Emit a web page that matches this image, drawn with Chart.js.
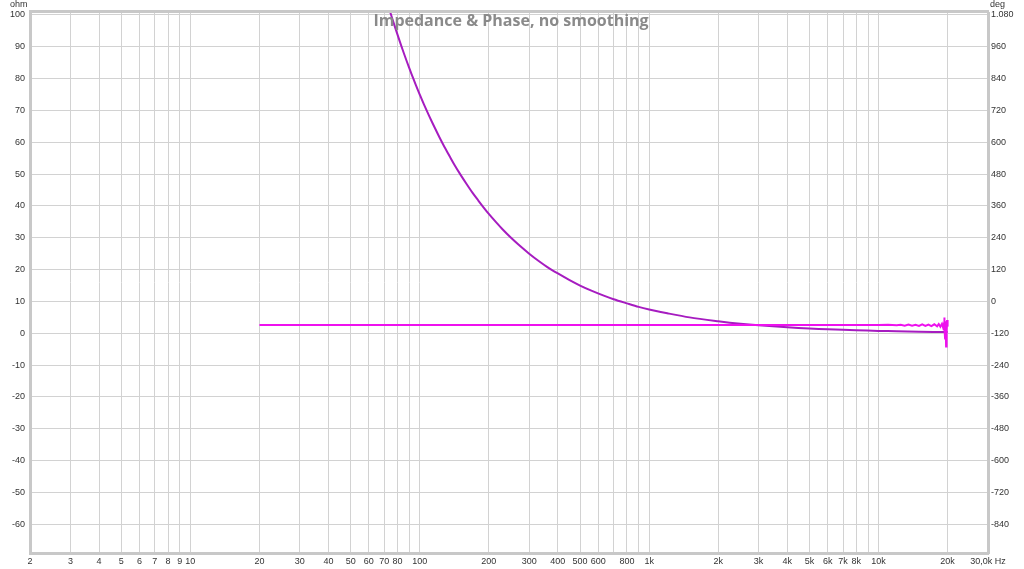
<!DOCTYPE html>
<html>
<head>
<meta charset="utf-8">
<script src="https://cdn.jsdelivr.net/npm/chart.js@4/dist/chart.umd.min.js"></script>
<style>
html,body{margin:0;padding:0;background:#fff;}
#wrap{width:1024px;height:569px;position:relative;}
</style>
</head>
<body>
<div id="wrap"><canvas id="c" width="1024" height="569"></canvas></div>
<script>
// Frequency ticks (Hz) and labels
const xTicks = [2,3,4,5,6,7,8,9,10,20,30,40,50,60,70,80,90,100,200,300,400,500,600,700,800,900,1000,2000,3000,4000,5000,6000,7000,8000,9000,10000,20000,30000];
const xTickLabels = ['2','3','4','5','6','7','8','9','10','20','30','40','50','60','70','80','','100','200','300','400','500','600','','800','','1k','2k','3k','4k','5k','6k','7k','8k','','10k','20k','30,0k Hz'];
const ohmTicks = [-60,-50,-40,-30,-20,-10,0,10,20,30,40,50,60,70,80,90,100];
const degTicks = [-840,-720,-600,-480,-360,-240,-120,0,120,240,360,480,600,720,840,960,1080];

// Impedance (ohm)
const impFreq = [20,40,60,66,70,73,76,80,84,88,92,96,100,105,110,116,122,128,135,142,150,160,170,180,190,200,215,230,250,270,300,330,360,400,450,500,560,630,700,800,900,1000,1200,1500,2000,2500,3000,4000,5000,6000,7000,8000,10000,12000,15000,20000];
const impOhm  = [375,188,125,113.6,107,102.7,98.7,93.8,89.3,85.2,81.5,78.1,75,71.4,68.2,64.7,61.5,58.6,55.6,52.8,50,46.9,44.1,41.7,39.5,37.5,34.9,32.6,30,27.8,25,22.7,20.8,18.8,16.7,15,13.4,11.9,10.7,9.4,8.3,7.5,6.3,5,3.8,3,2.5,1.9,1.5,1.25,1.1,0.95,0.75,0.63,0.5,0.38];

// Phase (deg)
const phFreq = [20,50,100,300,1000,3000,10000,11000,12000,12500,13000,13500,14000,14500,15000,15500,16000,16500,17000,17500,18000,18300,18600,18900,19100,19300,19350,19400,19500,19600,19700,19800,19900,20000];
const phDeg  = [-89,-89,-89,-89,-89,-89,-89,-88,-90,-88,-91,-87,-91,-88,-92,-86,-92,-87,-93,-86,-94,-85,-95,-84,-97,-82,-60,-100,-140,-75,-170,-110,-70,-95];

const impData = impFreq.map((f,i)=>({x:f,y:impOhm[i]}));
const phData = phFreq.map((f,i)=>({x:f,y:phDeg[i]}));

const textPlugin = {
  id:'texts',
  beforeDraw(chart){
    const ctx = chart.ctx;
    ctx.save();
    ctx.fillStyle='#fff';
    ctx.fillRect(0,0,chart.width,chart.height);
    ctx.restore();
  },
  afterDraw(chart){
    const ctx = chart.ctx, a = chart.chartArea;
    ctx.save();
    ctx.strokeStyle='#c8c8c8';
    ctx.lineWidth=3;
    ctx.beginPath();
    ctx.moveTo(a.left-1, a.top-1.5);
    ctx.lineTo(a.right+1, a.top-1.5);
    ctx.stroke();
    ctx.fillStyle='#333';
    ctx.font='9px "Liberation Sans"';
    ctx.textBaseline='top';
    ctx.textAlign='left';
    ctx.fillText('ohm', 10, 0);
    ctx.fillText('deg', 990, 0);
    ctx.font='bold 16px "Open Sans"';
    ctx.fillStyle='#8a8a8a';
    ctx.textAlign='center';
    ctx.textBaseline='middle';
    ctx.fillText('Impedance & Phase, no smoothing', 511, 21);
    ctx.restore();
  }
};

new Chart(document.getElementById('c'), {
  type:'line',
  data:{
    datasets:[
      {label:'Phase', data:phData, yAxisID:'y2', borderColor:'#ee11ee', borderWidth:2, pointRadius:0, tension:0},
      {label:'Impedance', data:impData, yAxisID:'y', borderColor:'#a61cc0', borderWidth:2, pointRadius:0, tension:0.3}
    ]
  },
  options:{
    responsive:false,
    animation:false,
    devicePixelRatio:1,
    layout:{padding:{top:13,left:0,right:0,bottom:0}},
    plugins:{legend:{display:false},tooltip:{enabled:false},title:{display:false}},
    scales:{
      x:{
        type:'logarithmic', min:2, max:30000,
        afterBuildTicks(s){ s.ticks = xTicks.map(v=>({value:v})); },
        afterFit(s){ s.height = 16; },
        ticks:{
          autoSkip:false, maxRotation:0, minRotation:0, padding:3,
          color:'#333', font:{family:'Liberation Sans', size:9},
          callback(v){ const i = xTicks.indexOf(v); return i>=0 ? xTickLabels[i] : ''; }
        },
        grid:{color:'#d2d2d2', lineWidth:1, drawTicks:false},
        border:{color:'#c8c8c8', width:3}
      },
      y:{
        type:'linear', position:'left', min:-69, max:100.6,
        afterBuildTicks(s){ s.ticks = ohmTicks.map(v=>({value:v})); },
        afterFit(s){ s.width = 30; },
        ticks:{padding:5, color:'#333', font:{family:'Liberation Sans', size:9},
          callback(v){ return String(v); }},
        grid:{color:'#d2d2d2', lineWidth:1, drawTicks:false},
        border:{color:'#c8c8c8', width:3}
      },
      y2:{
        type:'linear', position:'right', min:-948, max:1087.2,
        afterBuildTicks(s){ s.ticks = degTicks.map(v=>({value:v})); },
        afterFit(s){ s.width = 36; },
        ticks:{padding:3, color:'#333', font:{family:'Liberation Sans', size:9},
          callback(v){ return v>=1000 ? Math.floor(v/1000)+'.'+String(v%1000).padStart(3,'0') : String(v); }},
        grid:{drawOnChartArea:false, drawTicks:false},
        border:{color:'#c8c8c8', width:3}
      }
    }
  },
  plugins:[textPlugin]
});
</script>
</body>
</html>
